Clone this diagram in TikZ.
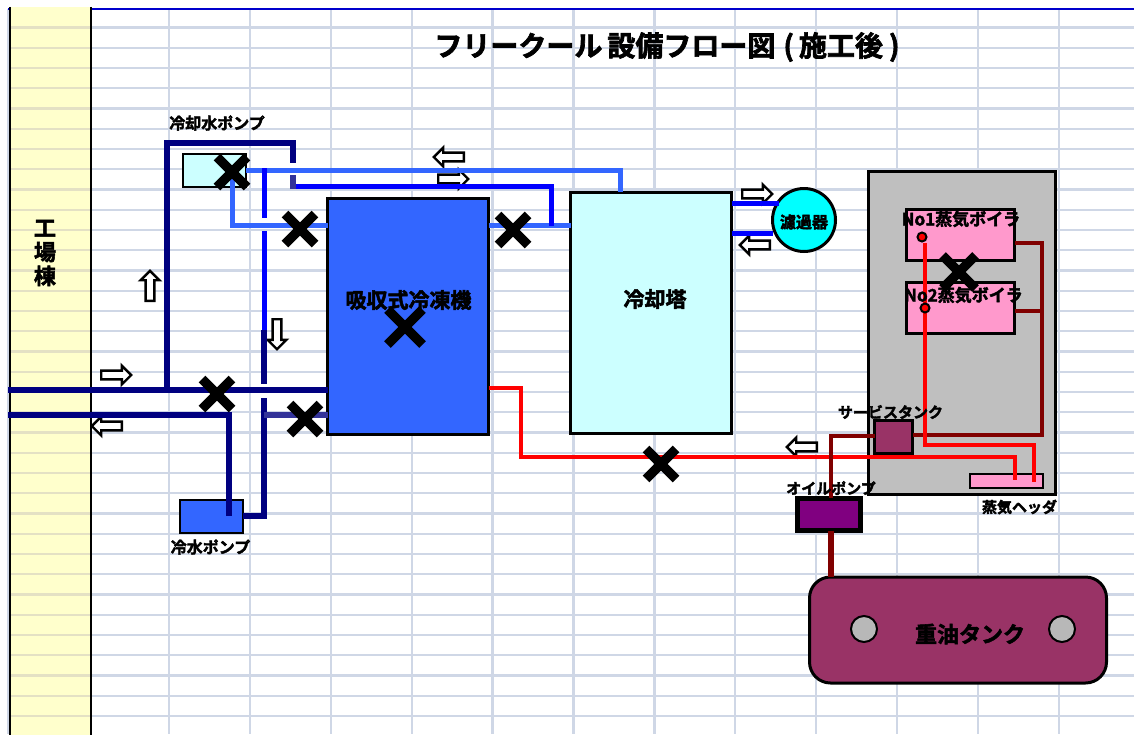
\documentclass[tikz,border=0pt]{standalone}
\usepackage{fontspec}
\setmainfont{Noto Sans CJK JP}[BoldFont={Noto Sans CJK JP Bold},BoldFeatures={FakeBold=2.4}]
\usetikzlibrary{shapes.arrows}
\definecolor{gridc}{HTML}{CFD7E6}
\definecolor{gridy}{HTML}{E4E1C4}
\definecolor{navyp}{HTML}{000080}
\definecolor{bluep}{HTML}{0000FF}
\definecolor{lightp}{HTML}{3366FF}
\definecolor{indigop}{HTML}{333399}
\definecolor{darkred}{HTML}{800000}
\definecolor{plum}{HTML}{993366}
\definecolor{pinkb}{HTML}{FF99CC}
\definecolor{paleb}{HTML}{CCFFFF}
\definecolor{aquab}{HTML}{00FFFF}
\definecolor{violetp}{HTML}{800080}
\definecolor{yellowb}{HTML}{FFFFCC}
\definecolor{titleline}{HTML}{0000CC}
\definecolor{portgrey}{HTML}{B8B8B8}
\tikzset{
 gridline/.style={draw=gridc,line width=2.4pt},
 unit/.style={draw=black,line width=3pt,inner sep=0pt,outer sep=0pt},
 lab/.style={inner sep=0pt,font=\bfseries,text=black},
 navypipe/.style={draw=navyp,line width=6pt},
 bluepipe/.style={draw=bluep,line width=5pt},
 lightpipe/.style={draw=lightp,line width=5pt},
 indigopipe/.style={draw=indigop,line width=6pt},
 redpipe/.style={draw=red,line width=4pt},
 oilpipe/.style={draw=darkred,line width=4pt},
 cross/.style={draw=black,line width=9.5pt},
 hollow/.style={single arrow,draw=black,fill=white,line width=2.4pt,minimum height=30pt,single arrow head extend=5pt,single arrow tip angle=90,inner sep=3.2pt,outer sep=0pt},
 gauge/.style={circle,draw=black,fill=red,line width=2pt,minimum size=9pt,inner sep=0pt},
 port/.style={circle,draw=black,line width=2pt,fill=portgrey,minimum size=26pt,inner sep=0pt},
}
\newcommand{\xmark}[3][15]{\draw[cross] (#2-#1,#3-#1)--(#2+#1,#3+#1) (#2-#1,#3+#1)--(#2+#1,#3-#1);}
\begin{document}
\begin{tikzpicture}[x=1pt,y=-1pt]
\useasboundingbox (0,0) rectangle (1134,734);
\fill[white] (0,0) rectangle (1134,734);
% grid
\foreach \k in {0,...,34}{\draw[gridline] (8,27.5+20.25*\k)--(1134,27.5+20.25*\k);}
\foreach \xx in {8,169,250,331,412,492.5,573.5,654.5,735,816,897,978,1059}{\draw[gridline] (\xx,9)--(\xx,734);}
\draw[draw=titleline,line width=2pt] (8,9)--(1134,9);
% factory band
\node[fill=yellowb,inner sep=0pt,minimum width=81pt,minimum height=728pt] (factory) at (50.5,371) {};
\foreach \k in {0,...,34}{\draw[draw=gridy,line width=2.4pt] (factory.west |- 0,27.5+20.25*\k)--(factory.east |- 0,27.5+20.25*\k);}
\draw[draw=black,line width=2pt] (factory.north west)--(factory.south west) (factory.north east)--(factory.south east);
\node[lab,font=\bfseries\fontsize{22}{25}\selectfont,align=center] (factorylab) at (45,253) {工\\[-1pt]場\\[-1pt]棟};
% title
\node[lab,font=\bfseries\fontsize{28}{30}\selectfont] (title) at (667,47) {フリークール\hspace{5pt}設備フロー図\hspace{8pt}(\hspace{5pt}施工後\hspace{6pt})};
% hollow arrows
\node[hollow,rotate=90] (au) at (150,288) {};
\node[hollow,rotate=-90] (ad) at (277,332) {};
\node[hollow] (ar1) at (114,375) {};
\node[hollow,rotate=180] (al1) at (109,426) {};
\node[hollow,rotate=180] (al2) at (451,157) {};
\node[hollow] (ar2) at (451,179) {};
\node[hollow] (ar3) at (755,194) {};
\node[hollow,rotate=180] (al3) at (757,245) {};
\node[hollow,rotate=180] (al4) at (804,447) {};
% equipment
\node[unit,fill=lightp,minimum width=161pt,minimum height=236pt] (chiller) at (408,316.5) {};
\node[unit,fill=paleb,minimum width=161pt,minimum height=241.5pt] (tower) at (651,312.75) {};
\node[unit,fill=paleb,line width=2pt,minimum width=63pt,minimum height=33pt] (cwpump) at (214.5,170) {};
\node[unit,fill=lightp,line width=2pt,minimum width=63pt,minimum height=33pt] (chwpump) at (211.5,516.5) {};
\node[unit,circle,fill=aquab,minimum size=63pt] (filter) at (804,220) {};
\node[unit,fill=black!25,minimum width=187pt,minimum height=323pt] (house) at (962,333) {};
\node[unit,fill=pinkb,minimum width=108pt,minimum height=51pt] (boilerA) at (960.5,235) {};
\node[unit,fill=pinkb,minimum width=108pt,minimum height=51pt] (boilerB) at (960.5,308) {};
\node[unit,fill=pinkb,line width=2pt,minimum width=73pt,minimum height=14pt] (header) at (1006,480.5) {};
\node[unit,fill=plum,minimum width=38pt,minimum height=33pt] (service) at (893.5,436.5) {};
\node[unit,fill=violetp,line width=4.5pt,minimum width=63pt,minimum height=32pt] (oilpump) at (829,514.5) {};
\node[unit,fill=plum,rounded corners=21pt,minimum width=297pt,minimum height=106pt] (tank) at (958,630) {};
\node[port] (portA) at (864,629) {};
\node[port] (portB) at (1062,629) {};
% junction coordinates
\coordinate (wl) at (8,390);
\coordinate (wr) at (8,414.5);
\coordinate (topl) at (167,142.5);
\coordinate (topr) at (293,142.5);
\coordinate (topend) at (293,163);
\coordinate (seg1) at (293,175);
\coordinate (seg2) at (293,189);
\coordinate (bstart) at (296,186);
\coordinate (bjoin) at (551.5,186);
\coordinate (bend) at (551.5,226);
\coordinate (lstart) at (246,170);
\coordinate (lturn) at (620,170);
\coordinate (lp1) at (232,178);
\coordinate (lp2) at (232,225);
\coordinate (vA) at (264,168);
\coordinate (vB) at (264,218);
\coordinate (vC) at (264,231);
\coordinate (vD) at (264,330);
\coordinate (vE) at (264,384);
\coordinate (vF) at (264,398);
\coordinate (vG) at (264,516);
\coordinate (rA) at (229,414.5);
\coordinate (rB) at (229,516);
\coordinate (r1) at (490,388);
\coordinate (r2) at (521,388);
\coordinate (r3) at (521,456.5);
\coordinate (r4) at (1015,456.5);
\coordinate (r5) at (1015,480);
\coordinate (s2) at (924.5,444.5);
\coordinate (s3) at (1034,444.5);
\coordinate (s4) at (1034,482);
\coordinate (o1) at (1042,243);
\coordinate (o2) at (1042,311);
\coordinate (o3) at (1042,434.5);
\coordinate (o4) at (831,436);
\coordinate (o5) at (831,498);
\coordinate (f1) at (779,203);
\coordinate (f2) at (773,233);
\coordinate (gA) at (924.5,243);
\coordinate (gB) at (924.5,303);
% pipes
\draw[lightpipe] (lstart)--(lturn)--(lturn |- tower.north);
\draw[lightpipe] (lp1)--(lp2)--(lp2 -| chiller.west);
\draw[lightpipe] (chiller.east |- lp2)--(tower.west |- lp2);
\draw[navypipe] (wl)--(wl -| chiller.west);
\draw[navypipe] (wr)--(rA)--(rB);
\draw[navypipe] (wl -| topl)--(topl)--(topr)--(topend);
\draw[indigopipe] (seg1)--(seg2);
\draw[bluepipe] (bstart)--(bjoin)--(bend);
\draw[bluepipe] (vA)--(vB);
\draw[bluepipe] (vC)--(vD);
\draw[navypipe] (vD)--(vE);
\draw[navypipe] (vF)--(vG)--(chwpump.east |- vG);
\draw[indigopipe] (vG |- wr)--(chiller.west |- wr);
\draw[bluepipe] (tower.east |- f1)--(f1);
\draw[bluepipe] (tower.east |- f2)--(f2);
\draw[redpipe] (chiller.east |- r1)--(r2)--(r3)--(r4)--(r5);
\draw[oilpipe] (boilerA.east |- o1)--(o1)--(o3)--(service.east |- o3);
\draw[oilpipe] (boilerB.east |- o2)--(o2);
\draw[oilpipe] (service.west |- o4)--(o4)--(o5);
\draw[oilpipe,line width=5.5pt] (oilpump.south -| o5)--(tank.north -| o5);
\draw[redpipe] (gA)--(gB);
\draw[redpipe] (gB)--(s2)--(s3)--(s4);
\node[gauge] (gaugeA) at (922,237) {};
\node[gauge] (gaugeB) at (925,308) {};
% crosses
\xmark{232}{172}
\xmark{300}{229}
\xmark{217}{394}
\xmark{305}{419}
\xmark[17.5]{405}{327}
\xmark{513}{230}
\xmark{661}{464}
\xmark[16.5]{959}{272}
% labels
\newcommand{\fz}[1]{\bfseries\fontsize{#1}{#1}\selectfont}
\node[lab,font=\fz{16}] (t1) at (217,123) {冷却水ポンプ};
\node[lab,font=\fz{16}] (t2) at (210.5,547) {冷水ポンプ};
\node[lab,font=\fz{21}] (t3) at (408.5,300) {吸収式冷凍機};
\node[lab,font=\fz{21}] (t4) at (655,299) {冷却塔};
\node[lab,font=\fz{16}] (t5) at (804,222) {濾過器};
\node[lab,font=\fz{17}] (t6) at (961,219) {No1蒸気ボイラ};
\node[lab,font=\fz{17}] (t7) at (963.5,295) {No2蒸気ボイラ};
\node[lab,font=\fz{15}] (t8) at (890.5,412) {サービスタンク};
\node[lab,font=\fz{15}] (t9) at (831,488) {オイルポンプ};
\node[lab,font=\fz{15}] (t10) at (1019.5,507) {蒸気ヘッダ};
\node[lab,font=\fz{22}] (t11) at (970,634) {重油タンク};
\end{tikzpicture}
\end{document}
